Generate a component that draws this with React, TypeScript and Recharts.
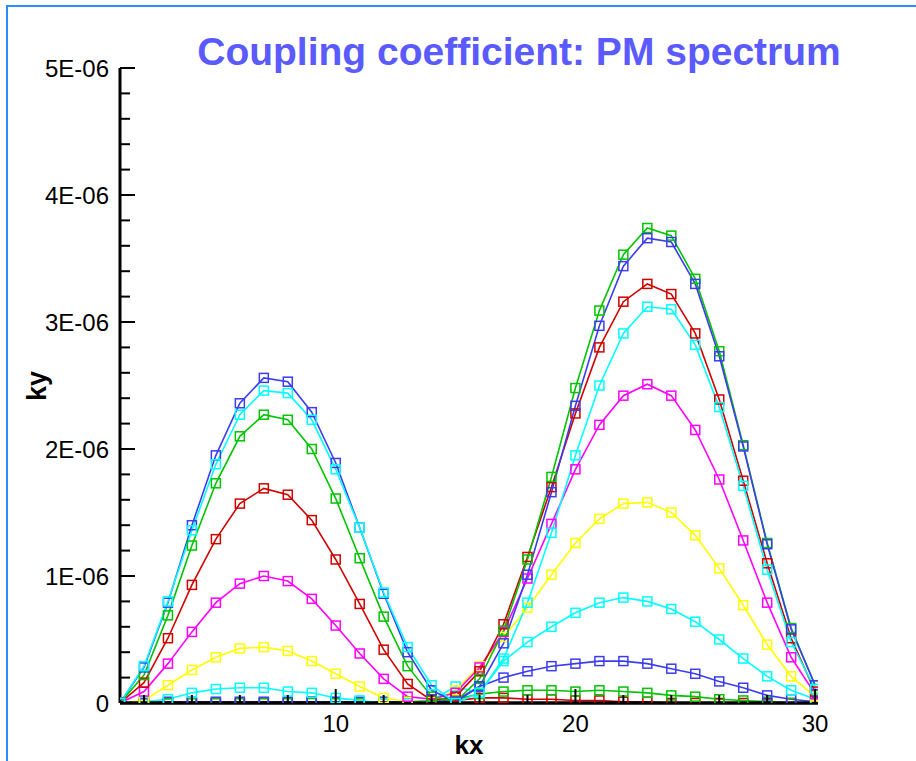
import { LineChart, Line, XAxis, YAxis } from 'recharts';

// kx positions
const kx = [1, 2, 3, 4, 5, 6, 7, 8, 9, 10, 11, 12, 13, 14, 15, 16, 17, 18, 19, 20, 21, 22, 23, 24, 25, 26, 27, 28, 29, 30];

// coupling coefficient per curve, in units of 1E-06
const redLow = [0, 0, 0, 0, 0, 0, 0, 0, 0.01, 0, 0, 0, 0, 0.01, 0.02, 0.04, 0.04, 0.03, 0.03, 0.02, 0.02, 0.01, 0.01, 0, 0, 0, 0, 0, 0, 0];
const greenLow = [0, 0, 0, 0, 0, 0, 0, 0, 0, 0, 0, 0, 0.01, 0.02, 0.03, 0.07, 0.09, 0.1, 0.1, 0.09, 0.1, 0.09, 0.08, 0.06, 0.05, 0.03, 0.02, 0.01, 0, 0];
const blueLow = [0, 0, 0.01, 0.01, 0.01, 0.01, 0.01, 0.01, 0.01, 0.01, 0.01, 0.01, 0.01, 0.01, 0.02, 0.13, 0.2, 0.25, 0.29, 0.31, 0.33, 0.33, 0.31, 0.27, 0.23, 0.17, 0.12, 0.06, 0.03, 0.01];
const cyanMid = [0, 0.01, 0.03, 0.08, 0.11, 0.12, 0.12, 0.09, 0.08, 0.04, 0.02, 0, 0, 0.02, 0.13, 0.08, 0.33, 0.48, 0.6, 0.71, 0.79, 0.83, 0.8, 0.74, 0.64, 0.5, 0.35, 0.21, 0.1, 0.03];
const yellow = [0, 0.02, 0.14, 0.26, 0.36, 0.43, 0.44, 0.41, 0.33, 0.23, 0.13, 0.04, 0.01, 0.01, 0.1, 0.29, 0.52, 0.75, 1.01, 1.26, 1.45, 1.57, 1.58, 1.5, 1.32, 1.06, 0.77, 0.46, 0.21, 0.05];
const magenta = [0, 0.09, 0.31, 0.56, 0.79, 0.94, 1.0, 0.96, 0.82, 0.61, 0.39, 0.19, 0.05, 0.03, 0.08, 0.28, 0.56, 0.98, 1.41, 1.84, 2.19, 2.42, 2.51, 2.42, 2.15, 1.76, 1.28, 0.79, 0.36, 0.07];
const redTop = [0, 0.16, 0.51, 0.93, 1.29, 1.57, 1.69, 1.64, 1.44, 1.13, 0.78, 0.42, 0.15, 0.02, 0.05, 0.25, 0.62, 1.15, 1.7, 2.28, 2.8, 3.16, 3.3, 3.22, 2.91, 2.39, 1.75, 1.1, 0.51, 0.09];
const greenTop = [0, 0.22, 0.69, 1.24, 1.73, 2.1, 2.27, 2.23, 2.0, 1.61, 1.14, 0.68, 0.29, 0.05, 0.01, 0.19, 0.57, 1.13, 1.78, 2.48, 3.09, 3.53, 3.74, 3.68, 3.34, 2.77, 2.03, 1.26, 0.59, 0.14];
const blueTop = [0, 0.28, 0.79, 1.4, 1.95, 2.36, 2.56, 2.53, 2.29, 1.89, 1.38, 0.86, 0.4, 0.1, 0.01, 0.13, 0.47, 1.01, 1.66, 2.34, 2.97, 3.44, 3.66, 3.63, 3.3, 2.73, 2.02, 1.25, 0.58, 0.14];
const cyanTop = [0, 0.29, 0.8, 1.36, 1.88, 2.27, 2.46, 2.44, 2.23, 1.84, 1.38, 0.87, 0.44, 0.14, 0, 0.08, 0.35, 0.79, 1.34, 1.95, 2.5, 2.91, 3.12, 3.1, 2.82, 2.33, 1.71, 1.05, 0.48, 0.11];

const xTicks = [2, 4, 6, 8, 10, 12, 14, 16, 18, 20, 22, 24, 26, 28, 30];
const yTicks = [0, 0.2, 0.4, 0.6, 0.8, 1, 1.2, 1.4, 1.6, 1.8, 2, 2.2, 2.4, 2.6, 2.8, 3, 3.2, 3.4, 3.6, 3.8, 4, 4.2, 4.4, 4.6, 4.8, 5];

const series = [
  { key: 'redLow', values: redLow, color: '#d00000' },
  { key: 'greenLow', values: greenLow, color: '#00c400' },
  { key: 'blueLow', values: blueLow, color: '#3c3cf0' },
  { key: 'cyanMid', values: cyanMid, color: '#00ffff' },
  { key: 'yellow', values: yellow, color: '#ffff00' },
  { key: 'magenta', values: magenta, color: '#ff00ff' },
  { key: 'redTop', values: redTop, color: '#d00000' },
  { key: 'greenTop', values: greenTop, color: '#00c400' },
  { key: 'blueTop', values: blueTop, color: '#3c3cf0' },
  { key: 'cyanTop', values: cyanTop, color: '#00ffff' },
];

const data = kx.map((k, i) => {
  const row: any = { kx: k };
  series.forEach((s) => { row[s.key] = s.values[i]; });
  return row;
});

const FONT = '"Liberation Sans", Arial, sans-serif';

function XTick({ x, y, payload }: any) {
  const major = payload.value % 10 === 0;
  return (
    <g>
      <line x1={x} y1={y} x2={x} y2={y - (major ? 14 : 8)} stroke="#000" strokeWidth={2} />
      {major && (
        <text x={x} y={y + 29} textAnchor="middle" fontSize={24} fontFamily={FONT} fill="#000">
          {payload.value}
        </text>
      )}
    </g>
  );
}

function YTick({ x, y, payload }: any) {
  const major = Number.isInteger(Math.round(payload.value * 1000) / 1000);
  return (
    <g>
      <line x1={x} y1={y} x2={x + (major ? 15 : 10)} y2={y} stroke="#000" strokeWidth={2} />
      {major && (
        <text x={x - 11} y={y} dy="0.36em" textAnchor="end" fontSize={24} fontFamily={FONT} fill="#000">
          {payload.value === 0 ? '0' : `${payload.value}E-06`}
        </text>
      )}
    </g>
  );
}

function Square({ cx, cy, stroke, index }: any) {
  if (cx == null || cy == null) return <g key={index} />;
  return <rect key={index} x={cx - 4.5} y={cy - 4.5} width={9} height={9} fill="none" stroke={stroke} strokeWidth={1.5} />;
}

export default function App() {
  return (
    <div style={{ position: 'fixed', left: 0, top: 0, width: 916, height: 761, background: '#fff', overflow: 'hidden' }}>
      <div style={{ position: 'absolute', left: 6, top: 5, width: 920, height: 800, borderLeft: '2px solid #2a8cff', borderTop: '2px solid #2a8cff' }} />
      <LineChart width={916} height={761} data={data} margin={{ top: 68, right: 98, bottom: 18, left: 20 }}>
        <XAxis
          dataKey="kx"
          type="number"
          domain={[1, 30.12]}
          ticks={xTicks}
          interval={0}
          height={40}
          tickSize={0}
          tickMargin={0}
          axisLine={{ stroke: '#000', strokeWidth: 3.5 }}
          tick={<XTick />}
          allowDataOverflow
        />
        <YAxis
          type="number"
          domain={[0, 5]}
          ticks={yTicks}
          interval={0}
          width={100}
          tickSize={0}
          tickMargin={0}
          axisLine={{ stroke: '#000', strokeWidth: 3 }}
          tick={<YTick />}
          allowDataOverflow
        />
        {series.map((s) => (
          <Line
            key={s.key}
            dataKey={s.key}
            type="linear"
            stroke={s.color}
            strokeWidth={1.6}
            dot={(p: any) => <Square key={p.index} {...p} stroke={s.color} />}
            activeDot={false}
            isAnimationActive={false}
          />
        ))}
        <text x={519} y={65} textAnchor="middle" fontSize={39} fontWeight="bold" fontFamily={FONT} fill="#5a5aff">
          Coupling coefficient: PM spectrum
        </text>
        <text x={469} y={754} textAnchor="middle" fontSize={26} fontWeight="bold" fontFamily={FONT} fill="#000">
          kx
        </text>
        <text x={46} y={386} transform="rotate(-90 46 386)" textAnchor="middle" fontSize={27} fontWeight="bold" fontFamily={FONT} fill="#000">
          ky
        </text>
      </LineChart>
    </div>
  );
}
